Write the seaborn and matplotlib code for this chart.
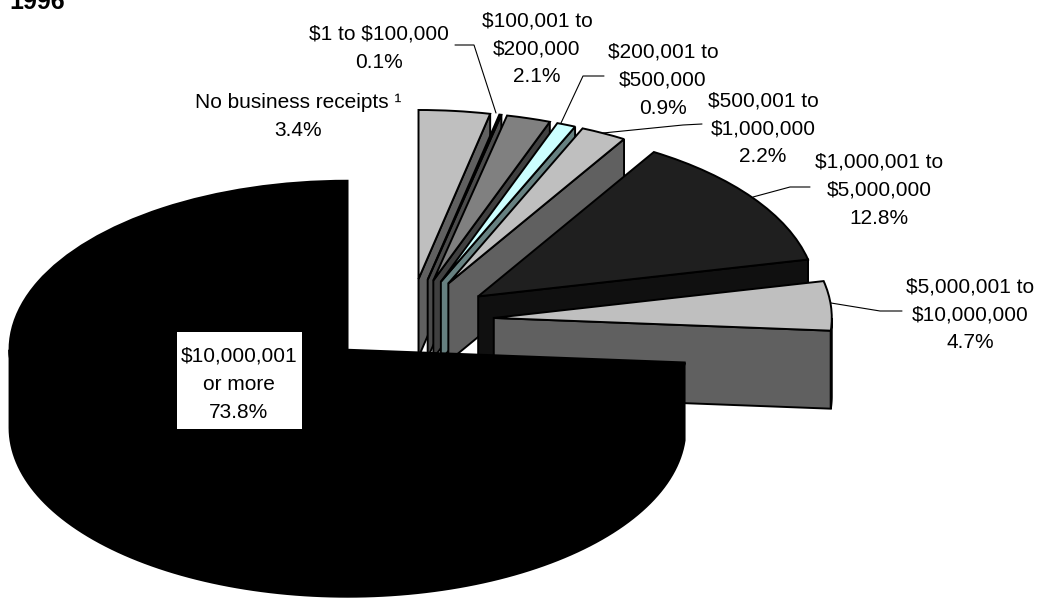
import numpy as np
import matplotlib
matplotlib.use("Agg")
import matplotlib.pyplot as plt
from matplotlib.patches import Polygon, Rectangle
import seaborn as sns

# Share of total receipts by business-receipts size class, 1996
size_classes = ["No business receipts", "$1 to $100,000", "$100,001 to $200,000",
                "$200,001 to $500,000", "$500,001 to $1,000,000",
                "$1,000,001 to $5,000,000", "$5,000,001 to $10,000,000",
                "$10,000,001 or more"]
shares = [3.4, 0.1, 2.1, 0.9, 2.2, 12.8, 4.7, 73.8]
face_colors = ["#BFBFBF", "#969696", "#808080", "#CCFFFF",
               "#BFBFBF", "#1F1F1F", "#BFBFBF", "#000000"]
label_texts = ["No business receipts ¹\n3.4%", "$1 to $100,000\n0.1%",
               "$100,001 to\n$200,000\n2.1%", "$200,001 to\n$500,000\n0.9%",
               "$500,001 to\n$1,000,000\n2.2%", "$1,000,001 to\n$5,000,000\n12.8%",
               "$5,000,001 to\n$10,000,000\n4.7%", "$10,000,001\nor more\n73.8%"]
label_centers = [(298, 117), (379, 48), (537, 49), (663, 80),
                 (763, 129), (879, 190), (970, 315), (239, 384)]
leaders = {
    1: [(455, 45), (474, 45), (496, 113)],
    3: [(604, 76), (583, 76), (561, 123)],
    4: [(702, 124), (683, 125), (603, 133)],
    5: [(810, 187), (790, 187), (753, 197)],
    6: [(902, 311), (880, 311), (831, 303)],
}

# Pie geometry in pixels of the 1040x598 canvas
CX, CY, RX, RY, DEPTH_PX = 409.5, 321.0, 338.0, 169.0, 78.0
EXPLODE = 0.25
WIDTH, HEIGHT = 1040, 598

sns.set_theme(style="white")
plt.rcParams["font.family"] = ["Liberation Sans", "DejaVu Sans"]
palette = sns.color_palette(face_colors)
side_colors = [tuple(c * 0.5 for c in col) for col in palette]

fig, ax = plt.subplots(figsize=(WIDTH / 100, HEIGHT / 100), dpi=100)
fig.subplots_adjust(0, 0, 1, 1)

wedges, _ = ax.pie(shares, colors=palette, startangle=90, counterclock=False,
                   explode=[EXPLODE] * len(shares),
                   wedgeprops=dict(edgecolor="black", linewidth=1.4))

# Stretch the circle into the tilted ellipse of the 3D view
ax.set_aspect("auto")
ax.set_xlim(-CX / RX, (WIDTH - CX) / RX)
ax.set_ylim(-(HEIGHT - CY) / RY, CY / RY)
ax.axis("off")


def to_data(x, y):
    return (x - CX) / RX, (CY - y) / RY


depth = DEPTH_PX / RY
fractions = np.cumsum([0] + shares) / sum(shares)
angles = 90 - 360 * fractions

for i, wedge in enumerate(wedges):
    wedge.set_zorder(2 * i + 3)
    start, end = angles[i], angles[i + 1]
    mid = np.radians((start + end) / 2)
    ax_, ay_ = EXPLODE * np.cos(mid), EXPLODE * np.sin(mid)
    rad = np.radians(end)
    rim = (ax_ + np.cos(rad), ay_ + np.sin(rad))
    # Cut face along the clockwise edge of the slice
    if i < len(wedges) - 1:
        ax.add_patch(Polygon([(ax_, ay_), rim, (rim[0], rim[1] - depth), (ax_, ay_ - depth)],
                             closed=True, facecolor=side_colors[i], edgecolor="black",
                             linewidth=1.4, zorder=2 * i + 2))
    # Outer rim where the arc faces the viewer
    arc_from, arc_to = min(start, 0), max(end, -180)
    if arc_from > arc_to:
        t = np.radians(np.linspace(arc_from, arc_to, 120))
        upper = np.column_stack([ax_ + np.cos(t), ay_ + np.sin(t)])
        lower = upper[::-1] - [0, depth]
        ax.add_patch(Polygon(np.vstack([upper, lower]), closed=True,
                             facecolor=side_colors[i], edgecolor="black",
                             linewidth=1.4, zorder=2 * i + 2))

for idx, pts in leaders.items():
    xs, ys = zip(*[to_data(*p) for p in pts])
    ax.plot(xs, ys, color="black", lw=0.8, zorder=30, solid_joinstyle="miter")

# White backing behind the label that sits on the largest slice
box_left, box_top = to_data(177, 332)
box_right, box_bottom = to_data(302, 429)
ax.add_patch(Rectangle((box_left, box_bottom), box_right - box_left, box_top - box_bottom,
                       facecolor="white", edgecolor="none", zorder=30))

for text, (x, y) in zip(label_texts, label_centers):
    ax.text(*to_data(x, y), text, ha="center", va="center", fontsize=15,
            linespacing=1.6, color="black", zorder=31, parse_math=False)

ax.text(*to_data(9, 9), "1996", fontsize=18, fontweight="bold", ha="left",
        va="baseline", color="black", zorder=31)

fig.savefig("out.png", dpi=100)
